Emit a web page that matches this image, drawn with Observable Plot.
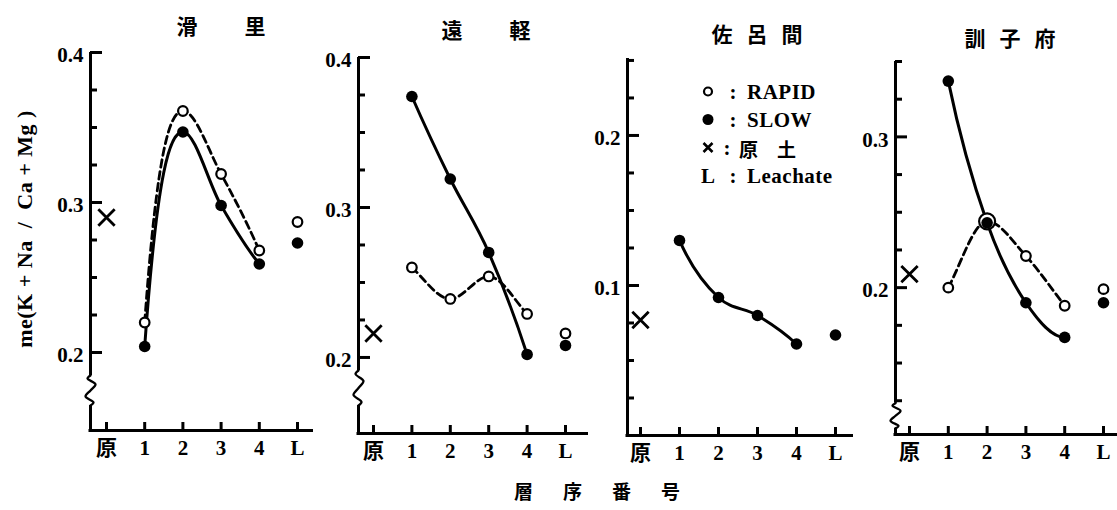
<!DOCTYPE html>
<html><head><meta charset="utf-8">
<script src="https://cdn.jsdelivr.net/npm/d3@7"></script>
<script src="https://cdn.jsdelivr.net/npm/@observablehq/plot@0.6"></script>
<style>
body{margin:0;background:#fff;}
#fig{position:relative;width:1117px;height:510px;overflow:hidden;background:#fff;}
#fig svg.panel{position:absolute;left:0;top:0;}
.lbl{position:absolute;color:#000;white-space:pre;font-weight:bold;line-height:1;}
.cjk{font-family:"Noto Sans CJK JP","Noto Sans CJK SC",sans-serif;}
.ser{font-family:"Liberation Serif","Noto Sans CJK JP",serif;}
</style></head><body><div id="fig"></div>
<script>
// ---- categories / labels ----
const categories = ["原","1","2","3","4","L"];
const siteNames = ["滑里","遠軽","佐呂間","訓子府"];
const yTickValues = [[0.2,0.3,0.4],[0.2,0.3,0.4],[0.1,0.2],[0.2,0.3]];
const yTickLabels = [["0.2","0.3","0.4"],["0.2","0.3","0.4"],["0.1","0.2"],["0.2","0.3"]];
const legendSymbols = ["o","●","×","L"];
const legendLabels = ["RAPID","SLOW","原　土","Leachate"];
const yLabel = "me(K + Na  /  Ca + Mg )";
const xLabel = "層序番号";

// ---- series values (layers 1-4) ----
const rapidNamerikawa = [0.220, 0.361, 0.319, 0.268];
const slowNamerikawa  = [0.204, 0.347, 0.298, 0.259];
const rapidEngaru     = [0.260, 0.239, 0.254, 0.229];
const slowEngaru      = [0.374, 0.319, 0.270, 0.202];
const rapidSaroma     = [];
const slowSaroma      = [0.130, 0.092, 0.080, 0.061];
const rapidKunneppu   = [0.200, 0.244, 0.221, 0.188];
const slowKunneppu    = [0.337, 0.243, 0.190, 0.167];
// original soil (原) and leachate (L)
const rawSoil       = [0.290, 0.216, 0.077, 0.209];
const rapidLeachate = [0.287, 0.216, null, 0.199];
const slowLeachate  = [0.273, 0.208, 0.067, 0.190];

const rapidSeries = [rapidNamerikawa, rapidEngaru, rapidSaroma, rapidKunneppu];
const slowSeries  = [slowNamerikawa, slowEngaru, slowSaroma, slowKunneppu];

// ---- smooth curve: monotone interior tangents, adjustable end tangents ----
function curveHand(k) {
  return function(context) {
    let pts = [];
    return {
      areaStart() {}, areaEnd() {},
      lineStart() { pts = []; },
      point(x, y) { pts.push([+x, +y]); },
      lineEnd() {
        const n = pts.length;
        if (!n) return;
        context.moveTo(pts[0][0], pts[0][1]);
        if (n === 1) return;
        if (n === 2) { context.lineTo(pts[1][0], pts[1][1]); return; }
        const s = [], m = new Array(n);
        for (let i = 0; i < n - 1; i++) s.push((pts[i+1][1] - pts[i][1]) / (pts[i+1][0] - pts[i][0]));
        for (let i = 1; i < n - 1; i++) {
          const h0 = pts[i][0] - pts[i-1][0], h1 = pts[i+1][0] - pts[i][0];
          const p = (s[i-1] * h1 + s[i] * h0) / (h0 + h1);
          m[i] = (Math.sign(s[i-1]) + Math.sign(s[i])) * Math.min(Math.abs(s[i-1]), Math.abs(s[i]), 0.5 * Math.abs(p)) || 0;
        }
        const endT = (sec, inner) => {
          let t = k * sec - (k - 1) * inner;
          if (Math.sign(t) !== Math.sign(sec)) t = 0;
          if (Math.abs(t) > 3 * Math.abs(sec)) t = 3 * sec;
          return t;
        };
        m[0] = endT(s[0], m[1]);
        m[n-1] = endT(s[n-2], m[n-2]);
        for (let i = 0; i < n - 1; i++) {
          const [x0, y0] = pts[i], [x1, y1] = pts[i+1], h = (x1 - x0) / 3;
          context.bezierCurveTo(x0 + h, y0 + m[i] * h, x1 - h, y1 - m[i+1] * h, x1, y1);
        }
      }
    };
  };
}

// ---- layout (pixels) and per-panel curve tension ----
const geom = [
  {axis:90,  c0:106, c5:297,  xEnd:313,  yTop:52, yBot:430, vTop:0.40,  vBot:0.148,  brk:[0.1847,0.1647], title:[221,25,47], kR:2.5, kS:2.5},
  {axis:358, c0:373, c5:565,  xEnd:588,  yTop:57, yBot:433, vTop:0.40,  vBot:0.1493, brk:[0.1913,0.168],  title:[486,29,47], kR:1.1, kS:2.2},
  {axis:627, c0:640, c5:835,  xEnd:853,  yTop:58, yBot:435, vTop:0.2513,vBot:0.0,    brk:null,            title:[757,33,14], kR:1.1, kS:2.5},
  {axis:895, c0:909, c5:1103, xEnd:1117, yTop:61, yBot:434, vTop:0.35,  vBot:0.1026, brk:[0.1233,0.1067], title:[1010,37,14], kR:1.1, kS:2.5}
];
const FONT = "'Liberation Serif','Noto Sans CJK JP',serif";
const fig = document.getElementById("fig");

geom.forEach((g, i) => {
  const pxX = (g.c5 - g.c0) / 5;
  const pxY = (g.yBot - g.yTop) / (g.vTop - g.vBot);
  const toX = px => (px - g.c0) / pxX;
  const xa = toX(g.axis), xe = toX(g.xEnd);
  const majors = yTickValues[i];
  const lowLimit = g.brk ? g.brk[0] : g.vBot;
  const minors = d3.range(Math.ceil(lowLimit / 0.025), Math.floor(g.vTop / 0.025 + 1e-6) + 1)
    .map(k => +(k * 0.025).toFixed(4))
    .filter(v => v > lowLimit + 1e-4 && !majors.some(m => Math.abs(m - v) < 1e-6));

  const rapid = rapidSeries[i].map((v, j) => ({x: j + 1, y: v}));
  const slow  = slowSeries[i].map((v, j) => ({x: j + 1, y: v}));
  const rapidPts = rapid.concat(rapidLeachate[i] == null ? [] : [{x: 5, y: rapidLeachate[i]}]);
  const slowPts  = slow.concat(slowLeachate[i] == null ? [] : [{x: 5, y: slowLeachate[i]}]);
  // an open circle that coincides with a filled one is drawn larger
  const coincide = p => slowPts.some(s => s.x === p.x && s.x < 5 && Math.abs(s.y - p.y) * pxY < 6);

  const marks = [];
  const lineStyle = {stroke: "black", strokeWidth: 3};
  // y axis line (with break)
  if (g.brk) {
    marks.push(Plot.ruleX([xa], {y1: g.brk[0], y2: g.vTop, ...lineStyle}));
    marks.push(Plot.ruleX([xa], {y1: g.vBot, y2: g.brk[1], ...lineStyle}));
    const h = g.brk[0] - g.brk[1];
    const wob = [[0,0],[0.1,-3],[0.3,5],[0.5,0],[0.7,-5],[0.9,3],[1,0]]
      .map(([t, dx]) => ({x: xa + dx / pxX, y: g.brk[0] - t * h}));
    marks.push(Plot.line(wob, {x: "x", y: "y", curve: "catmull-rom", ...lineStyle, strokeWidth: 2.3}));
  } else {
    marks.push(Plot.ruleX([xa], {y1: g.vBot, y2: g.vTop, ...lineStyle}));
  }
  // x axis line
  marks.push(Plot.ruleY([g.vBot], {x1: xa - 1.5 / pxX, x2: xe, ...lineStyle}));
  // y ticks (inward)
  marks.push(Plot.ruleY(majors, {y: d => d, x1: xa, x2: xa + 12 / pxX, ...lineStyle}));
  marks.push(Plot.ruleY(minors, {y: d => d, x1: xa, x2: xa + 7 / pxX, ...lineStyle}));
  // x ticks (upward)
  marks.push(Plot.ruleX(d3.range(categories.length), {x: d => d, y1: g.vBot, y2: g.vBot + 8 / pxY, ...lineStyle}));
  // tick labels
  marks.push(Plot.text(majors, {x: xa, y: d => d, text: (d, j) => yTickLabels[i][j], textAnchor: "end",
    dx: -7, dy: 3, fontSize: 21, fontWeight: "bold", fontFamily: FONT, fill: "black"}));
  marks.push(Plot.text(categories, {x: (d, j) => j, y: g.vBot, text: d => d, dy: 18,
    fontSize: 21, fontWeight: "bold", fontFamily: FONT, fill: "black"}));
  // lines
  if (rapid.length) marks.push(Plot.line(rapid, {x: "x", y: "y", curve: curveHand(g.kR), ...lineStyle, strokeWidth: 2.8, strokeDasharray: "7.5,4.5"}));
  if (slow.length) marks.push(Plot.line(slow, {x: "x", y: "y", curve: curveHand(g.kS), ...lineStyle}));
  // points
  marks.push(Plot.dot(rapidPts, {x: "x", y: "y", r: d => coincide(d) ? 8 : 4.8, fill: "white", stroke: "black", strokeWidth: 2.2}));
  marks.push(Plot.dot(slowPts, {x: "x", y: "y", r: 5.8, fill: "black", stroke: "none"}));
  marks.push(Plot.dot([rawSoil[i]], {x: 0, y: d => d, symbol: "times", r: 7.5, stroke: "black", strokeWidth: 2.8}));

  const svg = Plot.plot({
    width: 1117, height: 510, margin: 0,
    x: {type: "linear", domain: [0, 5], range: [g.c0, g.c5], axis: null},
    y: {type: "linear", domain: [g.vBot, g.vTop], range: [g.yBot, g.yTop], axis: null},
    r: {type: "identity"},
    style: {background: "transparent", overflow: "visible", fontFamily: FONT},
    marks
  });
  svg.classList.add("panel");
  fig.appendChild(svg);

  // title
  const [cx, cy, ls] = g.title;
  const t = document.createElement("div");
  t.className = "lbl cjk";
  t.textContent = siteNames[i];
  Object.assign(t.style, {left: cx + "px", top: cy + "px", fontSize: "21px", letterSpacing: ls + "px",
    paddingLeft: ls + "px", transform: "translate(-50%,-50%)"});
  fig.appendChild(t);
});

// y label
const yl = document.createElement("div");
yl.className = "lbl ser";
yl.textContent = yLabel;
Object.assign(yl.style, {left: "25px", top: "229px", fontSize: "22px", letterSpacing: "0.5px",
  transform: "translate(-50%,-50%) rotate(-90deg)"});
fig.appendChild(yl);

// x label
const xl = document.createElement("div");
xl.className = "lbl cjk";
xl.textContent = xLabel;
Object.assign(xl.style, {left: "597px", top: "490px", fontSize: "19px", letterSpacing: "30px", paddingLeft: "30px",
  transform: "translate(-50%,-50%)"});
fig.appendChild(xl);

// legend (inside 佐呂間 panel)
const legendRows = [92, 120, 148, 176];
const legendIcons = [
  `<svg width="14" height="14"><circle cx="7" cy="7" r="4" fill="white" stroke="black" stroke-width="2.2"/></svg>`,
  `<svg width="14" height="14"><circle cx="7" cy="7" r="5.5" fill="black"/></svg>`,
  `<svg width="14" height="14"><path d="M2.5,2.5L11.5,11.5M11.5,2.5L2.5,11.5" stroke="black" stroke-width="2.6"/></svg>`,
  null
];
legendLabels.forEach((lab, k) => {
  const y = legendRows[k];
  const s = document.createElement("div");
  s.className = "lbl ser";
  if (legendIcons[k]) { s.innerHTML = legendIcons[k]; s.setAttribute("aria-label", legendSymbols[k]); }
  else s.textContent = legendSymbols[k];
  Object.assign(s.style, {left: "708px", top: y + "px", fontSize: "21px", transform: "translate(-50%,-50%)"});
  fig.appendChild(s);
  const c = document.createElement("div");
  c.className = "lbl ser";
  c.textContent = ":";
  Object.assign(c.style, {left: (k === 2 ? "727px" : "733px"), top: y + "px", fontSize: "21px", transform: "translate(-50%,-50%)"});
  fig.appendChild(c);
  const l = document.createElement("div");
  l.className = "lbl " + (k === 2 ? "cjk" : "ser");
  l.textContent = lab;
  Object.assign(l.style, {left: (k === 2 ? "739px" : "747px"), top: y + "px", fontSize: k === 2 ? "19px" : "21px",
    letterSpacing: k === 2 ? "0px" : "0.5px", transform: "translateY(-50%)"});
  fig.appendChild(l);
});
</script></body></html>
